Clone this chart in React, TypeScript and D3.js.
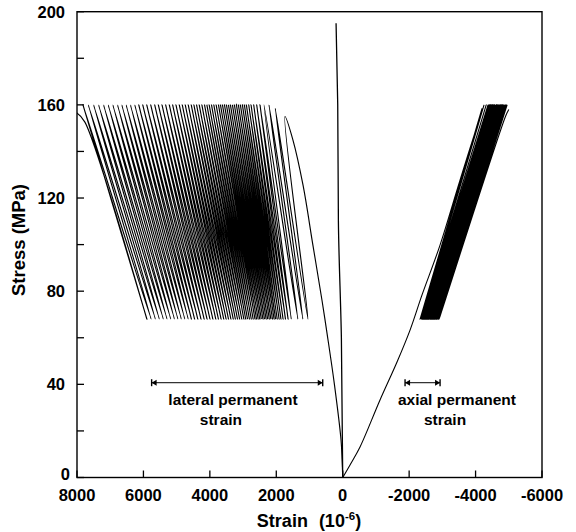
import React from 'react';
import * as d3 from 'd3';

// ---------- axis ticks ----------
const xTicks = [8000, 6000, 4000, 2000, 0, -2000, -4000, -6000];
const yTicks = [0, 40, 80, 120, 160, 200];
const yMinorTicks = [20, 60, 100, 140, 180];

// ---------- cycle stress levels (MPa) ----------
const valleyStress = 68;
const peakStress = 160;
const earlyPeaks = [155, 158.5];

// ---------- near-vertical reference line [strain, stress] ----------
const zeroLine = [[0, 0], [40, 60], [130, 110], [150, 160], [200, 195]];

// ---------- lateral strain (10^-6) ----------
const lateralInitial = [[0, 0], [20, 8], [50, 16], [250, 40], [473, 62], [623, 76], [900, 100], [1196, 125.6], [1500, 145]];
const lateralPeaks = [1738, 2030, 2220, 2370, 2490, 2590, 2680, 2760, 2830, 2900, 2960, 3020, 3080, 3140, 3200, 3260, 3320, 3380, 3440, 3500, 3560, 3620, 3680, 3740, 3810, 3880, 3950, 4020, 4090, 4160, 4240, 4320, 4400, 4480, 4560, 4650, 4740, 4830, 4920, 5020, 5120, 5220, 5330, 5440, 5550, 5660, 5780, 5900, 6020, 6140, 6260, 6390, 6520, 6650, 6780, 6920, 7060, 7200, 7350, 7500, 7660, 7820];
const lateralValleys = [1045, 1200, 1350, 1549, 1645, 1724, 1796, 1860, 1916, 1972, 2020, 2067, 2115, 2163, 2211, 2259, 2307, 2354, 2402, 2450, 2498, 2546, 2594, 2642, 2697, 2753, 2809, 2865, 2921, 2977, 3040, 3104, 3168, 3232, 3296, 3367, 3439, 3511, 3583, 3662, 3742, 3822, 3910, 3997, 4085, 4173, 4268, 4364, 4460, 4556, 4651, 4755, 4859, 4962, 5066, 5178, 5289, 5401, 5521, 5640, 5768, 5895];
const lateralFailure = [[7762, 152.6], [8003, 156.5], [8500, 159]];

// ---------- axial strain (10^-6) ----------
const axialInitial = [[0, 0], [-220, 5.4], [-521, 13.1], [-1123, 33.3], [-1635, 49.6], [-2027, 63.3], [-2388, 78.4], [-2930, 99.8], [-3532, 127.7]];
const axialPeaks = [-4135, -4195, -4255, -4320, -4375, -4380, -4390, -4399, -4407, -4414, -4420, -4427, -4434, -4440, -4446, -4453, -4460, -4466, -4473, -4479, -4486, -4492, -4499, -4505, -4513, -4521, -4529, -4536, -4544, -4551, -4560, -4569, -4578, -4586, -4595, -4605, -4615, -4624, -4634, -4645, -4656, -4667, -4679, -4691, -4703, -4715, -4728, -4741, -4754, -4767, -4780, -4794, -4808, -4823, -4837, -4852, -4867, -4883, -4899, -4915, -4933, -4950];
const axialValleys = [-2330, -2357, -2375, -2389, -2401, -2410, -2418, -2426, -2433, -2439, -2445, -2450, -2456, -2462, -2467, -2473, -2478, -2484, -2490, -2495, -2501, -2506, -2512, -2518, -2524, -2531, -2537, -2544, -2551, -2557, -2564, -2572, -2580, -2587, -2594, -2603, -2612, -2620, -2628, -2638, -2647, -2657, -2667, -2677, -2687, -2698, -2709, -2720, -2731, -2743, -2754, -2766, -2778, -2791, -2803, -2816, -2829, -2842, -2856, -2870, -2885, -2900];
const axialFailure = [[-4900, 155], [-5000, 158]];

// ---------- annotations [strainFrom, strainTo, stress] ----------
const lateralSpan = [5753, 602, 40.7];
const axialSpan = [-1877, -2931, 40.7];
const lateralText = ['lateral permanent', 'strain'];
const axialText = ['axial permanent', 'strain'];

const FONT = '"Liberation Sans", Arial, Helvetica, sans-serif';

function buildCycles(initial: number[][], peaks: number[], valleys: number[], failure: number[][]) {
  const pts: number[][] = initial.map((p) => [p[0], p[1]]);
  peaks.forEach((p, i) => {
    pts.push([p, i < earlyPeaks.length ? earlyPeaks[i] : peakStress]);
    pts.push([valleys[i], valleyStress]);
  });
  failure.forEach((p) => pts.push([p[0], p[1]]));
  return pts;
}

export default function App() {
  const W = 576;
  const H = 532;
  const x = d3.scaleLinear().domain([8000, -6000]).range([77, 542]);
  const y = d3.scaleLinear().domain([0, 200]).range([477.5, 11.7]);
  const [x0, x1] = x.range();
  const [yb, yt] = y.range();

  const curve = d3
    .line<number[]>()
    .x((d) => x(d[0]))
    .y((d) => y(d[1]))
    .curve(d3.curveCatmullRom.alpha(0.5));
  const straight = d3
    .line<number[]>()
    .x((d) => x(d[0]))
    .y((d) => y(d[1]))
    .curve(d3.curveMonotoneY);

  const lateral = buildCycles(lateralInitial, lateralPeaks, lateralValleys, lateralFailure);
  const axial = buildCycles(axialInitial, axialPeaks, axialValleys, axialFailure);

  const span = (s: number[], key: string) => {
    const xa = x(s[0]);
    const xb = x(s[1]);
    const yy = y(s[2]);
    const left = Math.min(xa, xb);
    const right = Math.max(xa, xb);
    const ah = 5;
    const aw = 3;
    return (
      <g key={key}>
        <line x1={left} x2={right} y1={yy} y2={yy} stroke="#000" strokeWidth={1} />
        <line x1={left} x2={left} y1={yy - 3.5} y2={yy + 3.5} stroke="#000" strokeWidth={1.4} />
        <line x1={right} x2={right} y1={yy - 3.5} y2={yy + 3.5} stroke="#000" strokeWidth={1.4} />
        <path d={`M${left},${yy}L${left + ah},${yy - aw}L${left + ah},${yy + aw}Z`} fill="#000" />
        <path d={`M${right},${yy}L${right - ah},${yy - aw}L${right - ah},${yy + aw}Z`} fill="#000" />
      </g>
    );
  };

  return (
    <svg
      width={W}
      height={H}
      viewBox={`0 0 ${W} ${H}`}
      style={{ position: 'absolute', left: 0, top: 0, display: 'block', background: '#fff' }}
      fontFamily={FONT}
    >
      <defs>
        <clipPath id="plotClip">
          <rect x={x0} y={yt} width={x1 - x0} height={yb - yt} />
        </clipPath>
      </defs>
      <rect x={0} y={0} width={W} height={H} fill="#fff" />

      {/* data */}
      <g clipPath="url(#plotClip)" fill="none" stroke="#000">
        <path d={straight(zeroLine) || ''} strokeWidth={1.3} />
        <path d={curve(lateral) || ''} strokeWidth={1.15} />
        <path d={curve(axial) || ''} strokeWidth={1.1} />
      </g>

      {/* frame */}
      <rect x={x0} y={yt} width={x1 - x0} height={yb - yt} fill="none" stroke="#000" strokeWidth={1.4} />

      {/* y ticks */}
      {yTicks.concat(yMinorTicks).map((v) => (
        <line key={'yt' + v} x1={x0} x2={x0 + 7} y1={y(v)} y2={y(v)} stroke="#000" strokeWidth={1.3} />
      ))}
      {yTicks.map((v) => (
        <text
          key={'yl' + v}
          x={v === 0 ? x0 - 7 : x0 - 12}
          y={y(v)}
          dy={v === 0 ? '0.18em' : '0.36em'}
          textAnchor="end"
          fontSize={16.5}
          fontWeight="bold"
        >
          {v}
        </text>
      ))}

      {/* x ticks */}
      {xTicks.map((v) => (
        <line key={'xt' + v} x1={x(v)} x2={x(v)} y1={yb} y2={yb - 7} stroke="#000" strokeWidth={1.3} />
      ))}
      {xTicks.map((v) => (
        <text key={'xl' + v} x={x(v)} y={501} textAnchor="middle" fontSize={16.5} fontWeight="bold">
          {v}
        </text>
      ))}

      {/* axis titles */}
      <text x={309} y={527} textAnchor="middle" fontSize={18} fontWeight="bold">
        <tspan>Strain</tspan>
        <tspan dx={6}> (10</tspan>
        <tspan dy={-7} fontSize={11.5}>-6</tspan>
        <tspan dy={7}>)</tspan>
      </text>
      <text
        transform={`translate(25,${240}) rotate(-90)`}
        textAnchor="middle"
        fontSize={18.5}
        fontWeight="bold"
      >
        Stress (MPa)
      </text>

      {/* annotations */}
      {span(lateralSpan, 'ls')}
      {span(axialSpan, 'as')}
      <text x={x(3304)} y={y(31.1)} textAnchor="middle" fontSize={15.5} fontWeight="bold">
        {lateralText[0]}
      </text>
      <text x={x(3666)} y={y(22.5)} textAnchor="middle" fontSize={15.5} fontWeight="bold">
        {lateralText[1]}
      </text>
      <text x={x(-3440)} y={y(31.1)} textAnchor="middle" fontSize={15.5} fontWeight="bold">
        {axialText[0]}
      </text>
      <text x={x(-3081)} y={y(22.5)} textAnchor="middle" fontSize={15.5} fontWeight="bold">
        {axialText[1]}
      </text>
    </svg>
  );
}
